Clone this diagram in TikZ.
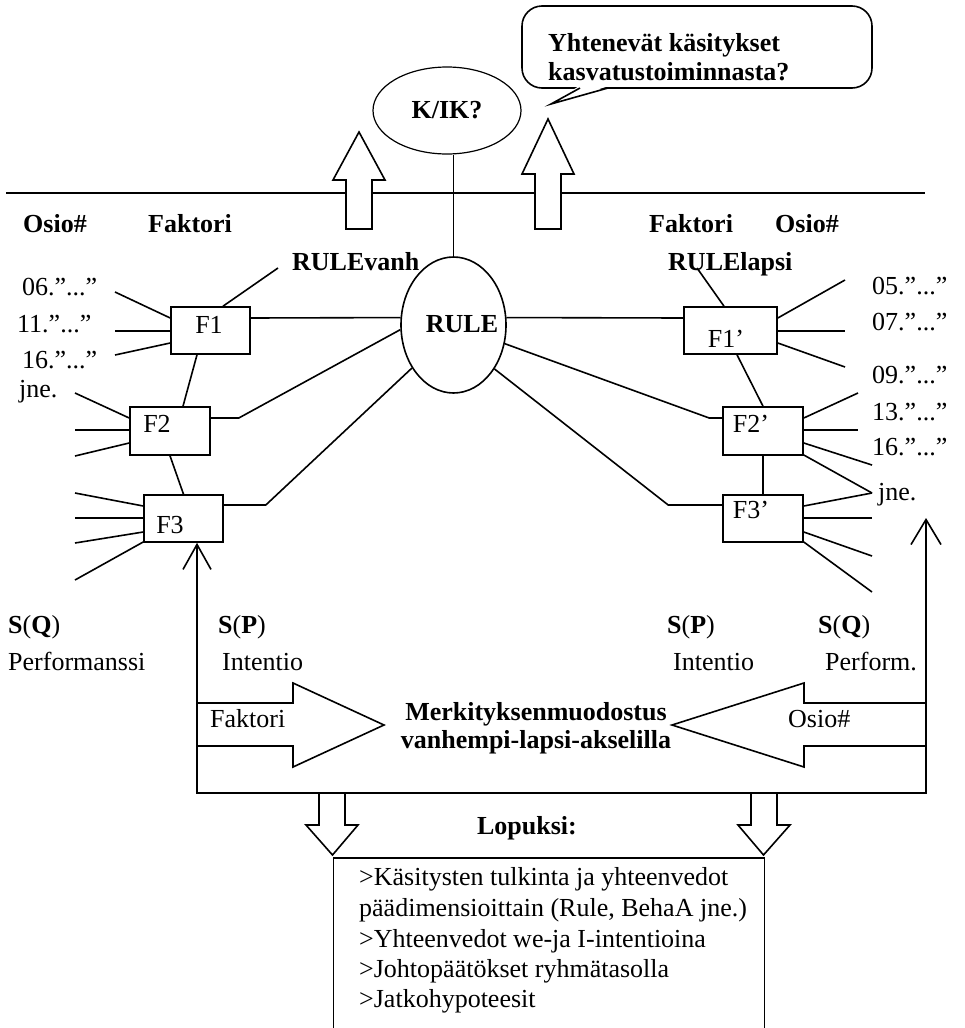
\documentclass[tikz,border=0pt]{standalone}
\usepackage{fontspec}
\setmainfont{Liberation Serif}
\usetikzlibrary{arrows.meta,calc,shapes.geometric}

\begin{document}
\begin{tikzpicture}[x=1pt,y=-1pt,
  every node/.style={font=\fontsize{26}{30}\selectfont},
  ln/.style={line width=1.6pt, line join=miter},
  thin/.style={line width=1.2pt},
  txt/.style={inner sep=0pt, anchor=base west},
  ctxt/.style={inner sep=0pt, anchor=base},
  bold/.style={font=\fontsize{26}{30}\selectfont\bfseries},
  fbox/.style={draw, line width=1.6pt, inner sep=0pt, minimum height=47pt},
  oval/.style={draw, ellipse, line width=1.6pt, inner sep=0pt},
  blockarrow/.style={draw, fill=white, line width=1.6pt, line join=miter},
  barbs/.style={arrows={Straight Barb[length=25pt,width=28pt]-Straight Barb[length=25pt,width=30pt]}}
]
\useasboundingbox (0,0) rectangle (964,1028);

% ---------- upper level ----------
\draw[ln] (6,193) -- (925,193);

\node[oval, thin, minimum width=148pt, minimum height=87pt, bold] (kik) at (447,110.5) {K/IK?};
\node[oval, minimum width=105pt, minimum height=136pt] (rule) at (453.5,325) {};
\node[ctxt, bold] (rulelbl) at (462,332) {RULE};
\draw[thin] (rule.north) -- (rule.north |- kik.south);

% hollow arrows rising through the top line
\draw[blockarrow] (346,229) -- (346,180) -- (333,180) -- (359,132) -- (385,180) -- (372,180) -- (372,229) -- cycle;
\draw[blockarrow] (535,229) -- (535,174) -- (522,174) -- (548,119) -- (574,174) -- (561,174) -- (561,229) -- cycle;

% speech bubble
\node[draw, rounded corners=20pt, line width=1.6pt, minimum width=350pt, minimum height=82pt, inner sep=0pt] (bubble) at (697,47) {};
\fill[white] (579,86) -- (551,104) -- (609,86) -- cycle;
\draw[ln] (580,88) -- (551,104) -- (608,88);
\node[txt, bold] (b1) at (548,51) {Yhtenevät käsitykset};
\node[txt, bold] (b2) at (548,80) {kasvatustoiminnasta?};

% ---------- column headings ----------
\node[txt, bold] (osioL) at (23,232) {Osio\#};
\node[txt, bold] (faktL) at (148,232) {Faktori};
\node[txt, bold] (faktR) at (649,232) {Faktori};
\node[txt, bold] (osioR) at (775,232) {Osio\#};
\node[txt, bold] (rulevanh) at (292,270) {RULEvanh};
\node[txt, bold] (rulelapsi) at (668,270) {RULElapsi};

% ---------- factor boxes ----------
\node[fbox, minimum width=79pt] (f1) at (210.5,330.5) {};
\node[fbox, minimum width=80pt, minimum height=48pt] (f2) at (170,431) {};
\node[fbox, minimum width=79pt] (f3) at (183.5,518.5) {};
\node[fbox, minimum width=93pt] (f1p) at (730.5,330.5) {};
\node[fbox, minimum width=80pt, minimum height=48pt] (f2p) at (763,431) {};
\node[fbox, minimum width=80pt] (f3p) at (763,518.5) {};

\node[ctxt] (f1t) at (209,333) {F1};
\node[ctxt] (f2t) at (157,432) {F2};
\node[ctxt] (f3t) at (170,533) {F3};
\node[ctxt] (f1pt) at (726,347) {F1’};
\node[ctxt] (f2pt) at (751,432) {F2’};
\node[ctxt] (f3pt) at (751,518) {F3’};

% item labels
\node[txt] (l06) at (22,295) {06.”...”};
\node[txt] (l11) at (17,332) {11.”...”};
\node[txt] (l16) at (22,368) {16.”...”};
\node[txt] (ljneL) at (19,397) {jne.};
\node[txt] (r05) at (872,294) {05.”...”};
\node[txt] (r07) at (872,330) {07.”...”};
\node[txt] (r09) at (872,383) {09.”...”};
\node[txt] (r13) at (872,420) {13.”...”};
\node[txt] (r16) at (872,455) {16.”...”};
\node[txt] (rjne) at (878,500) {jne.};

% item spokes
\foreach \n/\dy/\ex/\ey in {a1/-12.5/115/292, a2/0.5/115/331, a3/12.5/115/355}
  {\coordinate (\n) at (\ex,\ey); \draw[ln] ($(f1.west)+(0,\dy)$) -- (\n);}
\foreach \n/\dy/\ex/\ey in {b1e/-13/75/393, b2e/-1/75/430, b3e/12/75/456}
  {\coordinate (\n) at (\ex,\ey); \draw[ln] ($(f2.west)+(0,\dy)$) -- (\n);}
\foreach \n/\dy/\ex/\ey in {c1/-12.5/75/493, c2/-0.5/75/518, c3/13.5/75/543, c4/23.5/75/580}
  {\coordinate (\n) at (\ex,\ey); \draw[ln] ($(f3.west)+(0,\dy)$) -- (\n);}
\foreach \n/\dy/\ex/\ey in {d1/-12.5/845/280, d2/0.5/845/331, d3/12.5/845/367}
  {\coordinate (\n) at (\ex,\ey); \draw[ln] ($(f1p.east)+(0,\dy)$) -- (\n);}
\foreach \n/\dy/\ex/\ey in {e1/-13/858/393, e2/-1/858/430, e3/12/872/465, e4/24/872/493}
  {\coordinate (\n) at (\ex,\ey); \draw[ln] ($(f2p.east)+(0,\dy)$) -- (\n);}
\foreach \n/\dy/\ex/\ey in {g1/-12.5/872/493, g2/-0.5/872/518, g3/13.5/872/556, g4/23.5/872/592}
  {\coordinate (\n) at (\ex,\ey); \draw[ln] ($(f3p.east)+(0,\dy)$) -- (\n);}

% factor chains
\draw[ln] ($(f1.south)+(-13.5,0)$) -- ($(f2.north)+(13,0)$);
\draw[ln] (f2.south) -- (f3.north);
\draw[ln] ($(f1p.south)+(6.5,0)$) -- (f2p.north);
\draw[ln] (f2p.south) -- (f3p.north);
\draw[ln] ($(rulevanh.base west)+(-14,-2)$) -- ($(f1.north)+(12.5,0)$);
\draw[ln] ($(rulelapsi.base west)+(29,-2)$) -- ($(f1p.north)+(-6.5,0)$);

% links to RULE
\draw[ln] ($(f1.east)+(0,-12.5)$) -- (rule.172);
\draw[ln] ($(f2.east)+(0,-13)$) -- ++(28,0) -- (rule.185);
\draw[ln] ($(f3.east)+(0,-13.5)$) -- ++(42,0) -- (rule.226);
\draw[ln] (rule.8) -- ($(f1p.west)+(0,-12.5)$);
\draw[ln] (rule.340) -- ($(f2p.west)+(-13,-13)$) -- ($(f2p.west)+(0,-13)$);
\draw[ln] (rule.313) -- ($(f3p.west)+(-54,-13.5)$) -- ($(f3p.west)+(0,-13.5)$);

% ---------- S(Q) / S(P) ----------
\node[txt] (sqL) at (8,633) {\textbf{S}(\textbf{Q})};
\node[txt] (perfL) at (8,670) {Performanssi};
\node[txt] (spL) at (218,633) {\textbf{S}(\textbf{P})};
\node[txt] (intL) at (222,670) {Intentio};
\node[txt] (spR) at (667,633) {\textbf{S}(\textbf{P})};
\node[txt] (intR) at (673,670) {Intentio};
\node[txt] (sqR) at (818,633) {\textbf{S}(\textbf{Q})};
\node[txt] (perfR) at (825,670) {Perform.};

% frame with arrows up
\coordinate (cl) at (197,793);
\coordinate (cr) at (926,793);
\coordinate (tipR) at (926,518);
\draw[ln, barbs] ($(f3.south)+(13.5,0)$) -- (cl) -- (cr) -- (tipR);

% meaning-making arrows
\draw[ln] (197,703) -- (293,703) -- (293,683) -- (384,725) -- (293,767) -- (293,746) -- (197,746);
\draw[ln] (926,703) -- (804,703) -- (804,683) -- (672,725) -- (804,767) -- (804,746) -- (926,746);
\node[txt] (faktA) at (210,727) {Faktori};
\node[txt] (osioA) at (788,727) {Osio\#};
\node[ctxt, bold] (m1) at (536,720) {Merkityksenmuodostus};
\node[ctxt, bold] (m2) at (536,748) {vanhempi-lapsi-akselilla};

% ---------- conclusions ----------
\draw[ln] (319,793) -- (319,825) -- (306,825) -- (332.5,855) -- (358,825) -- (345,825) -- (345,793);
\draw[ln] (751,793) -- (751,825) -- (738,825) -- (763.5,855) -- (790,825) -- (777,825) -- (777,793);
\node[ctxt, bold] (lopuksi) at (527,834) {Lopuksi:};
\node[draw, line width=1.6pt, minimum width=431pt, minimum height=200pt, anchor=north west, inner sep=0pt] (concl) at (332.5,857) {};
\node[txt] (k1) at (359,885) {>Käsitysten tulkinta ja yhteenvedot};
\node[txt] (k2) at (359,916) {päädimensioittain (Rule, BehaA jne.)};
\node[txt] (k3) at (359,947) {>Yhteenvedot we-ja I-intentioina};
\node[txt] (k4) at (359,977) {>Johtopäätökset ryhmätasolla};
\node[txt] (k5) at (359,1007) {>Jatkohypoteesit};
\end{tikzpicture}
\end{document}
